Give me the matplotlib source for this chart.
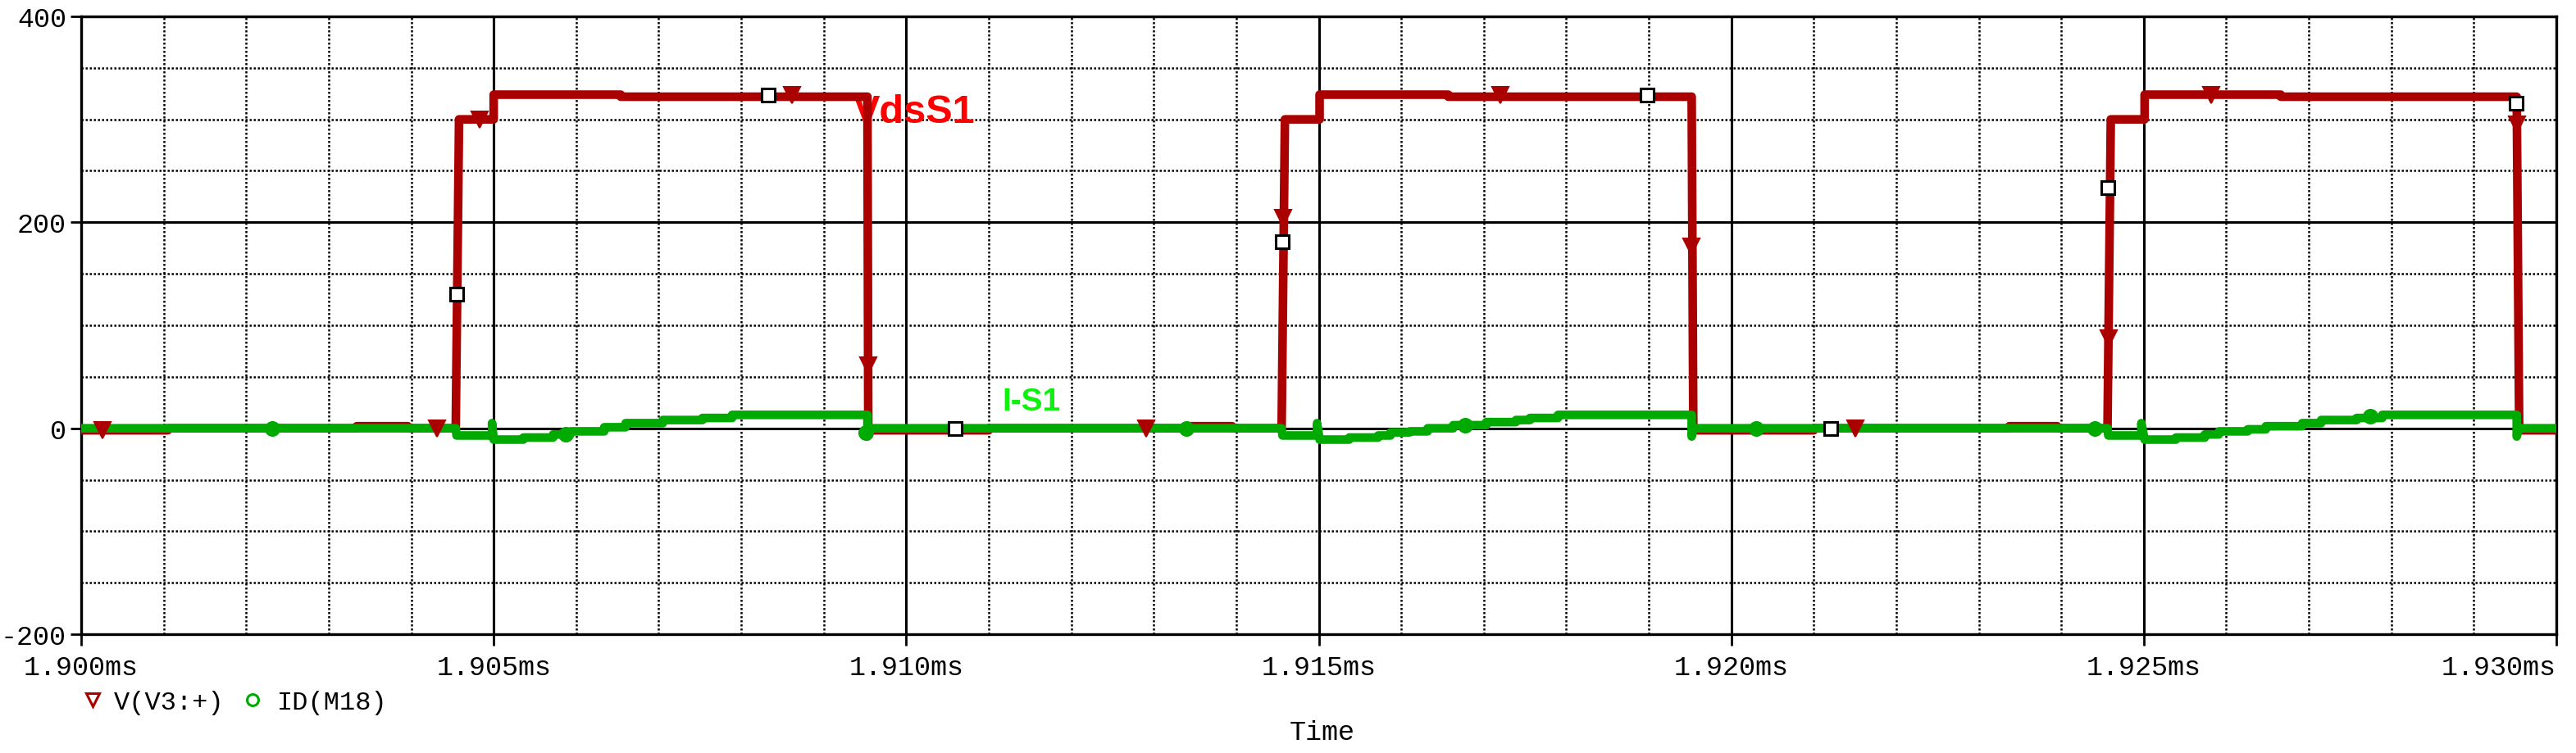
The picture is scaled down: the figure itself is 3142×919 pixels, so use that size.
import matplotlib
matplotlib.use('Agg')
from matplotlib import pyplot as plt
from matplotlib.lines import Line2D
from matplotlib.ticker import MultipleLocator

plt.rcParams['axes.unicode_minus'] = False

MONO = 'Liberation Mono'
RED = '#aa0000'
GREEN = '#00aa00'

# V(V3:+) trace, time in ms
vds_time = [1.90000, 1.90105, 1.90105, 1.90334, 1.90334, 1.90396, 1.90396,
            1.90454, 1.90458, 1.90500, 1.90500, 1.90654, 1.90654, 1.90953, 1.90954,
            1.91100, 1.91100, 1.91340, 1.91340, 1.91395, 1.91395,
            1.91455, 1.91459, 1.91501, 1.91501, 1.91657, 1.91657, 1.91952, 1.91954,
            1.92100, 1.92100, 1.92337, 1.92337, 1.92395, 1.92395,
            1.92456, 1.92460, 1.92501, 1.92501, 1.92666, 1.92666, 1.92952, 1.92955,
            1.93000]
vds_volt = [-2, -2, 0, 0, 2, 2, 0,
            0, 300, 300, 324, 324, 322, 322, -2,
            -2, 0, 0, 2, 2, 0,
            0, 300, 300, 324, 324, 322, 322, -2,
            -2, 0, 0, 2, 2, 0,
            0, 300, 300, 324, 324, 322, 322, -2,
            -2]

# ID(M18) trace
id_time = [1.90000, 1.90454, 1.90455, 1.90498, 1.90498, 1.90500, 1.90536, 1.90536,
           1.90572, 1.90572, 1.90593, 1.90593, 1.90634, 1.90634, 1.90660, 1.90660,
           1.90705, 1.90705, 1.90753, 1.90753, 1.90789, 1.90789, 1.90953, 1.90953,
           1.90955,
           1.91455, 1.91456, 1.91498, 1.91498, 1.91501, 1.91537, 1.91537,
           1.91572, 1.91572, 1.91587, 1.91587, 1.91610, 1.91610, 1.91632, 1.91632,
           1.91663, 1.91663, 1.91703, 1.91703, 1.91739, 1.91739, 1.91756, 1.91756,
           1.91790, 1.91790, 1.91952, 1.91952, 1.91954,
           1.92456, 1.92457, 1.92497, 1.92497, 1.92501, 1.92539, 1.92539,
           1.92574, 1.92574, 1.92591, 1.92591, 1.92626, 1.92626, 1.92648, 1.92648,
           1.92692, 1.92692, 1.92715, 1.92715, 1.92758, 1.92758, 1.92789, 1.92789,
           1.92952, 1.92952, 1.92955, 1.93000]
id_amp = [0, 0, -7, -7, 5, -11, -11, -9,
          -9, -6, -6, -3, -3, 1, 1, 5,
          5, 8, 8, 10, 10, 13, 13, -8,
          0,
          0, -7, -7, 5, -11, -11, -9,
          -9, -7, -7, -4, -4, -3, -3, 0,
          0, 3, 3, 6, 6, 8, 8, 10,
          10, 13, 13, -8, 0,
          0, -7, -7, 5, -11, -11, -9,
          -9, -6, -6, -3, -3, -1, -1, 2,
          2, 5, 5, 8, 8, 10, 10, 13,
          13, -8, 0, 0]

# trace markers
vds_mark_time = [1.90026, 1.90431, 1.90483, 1.90862, 1.90954, 1.91291, 1.91457,
                 1.91720, 1.91952, 1.92150, 1.92457, 1.92582, 1.92952]
vds_mark_volt = [-2, 0, 300, 324, 61, 0, 204, 324, 176, 0, 87, 324, 295]
id_mark_time = [1.90232, 1.90587, 1.90951, 1.91340, 1.91677, 1.92030, 1.92441, 1.92774]
id_mark_amp = [0, -6, -4, 0, 3, 0, 0, 12]
box_time = [1.90455, 1.90833, 1.91059, 1.91456, 1.91898, 1.92121, 1.92456, 1.92951]
box_val = [130, 324, 0, 181, 324, 0, 234, 316]

x_ticks = [1.900, 1.905, 1.910, 1.915, 1.920, 1.925, 1.930]
x_labels = ['1.900ms', '1.905ms', '1.910ms', '1.915ms', '1.920ms', '1.925ms', '1.930ms']
y_ticks = [-200, 0, 200, 400]
y_labels = ['-200', '0', '200', '400']


def main():
    W, H = 3142, 920
    fig = plt.figure(figsize=(W / 100, H / 100), dpi=100)
    ax = fig.add_axes([99 / W, 1 - 775 / H, (3118 - 99) / W, (775 - 21) / H])

    ax.set_xlim(x_ticks[0], x_ticks[-1])
    ax.set_ylim(y_ticks[0], y_ticks[-1])
    ax.set_xticks(x_ticks)
    ax.set_xticklabels(x_labels, fontfamily=MONO, fontsize=24)
    ax.set_yticks(y_ticks)
    ax.set_yticklabels(y_labels, fontfamily=MONO, fontsize=24)
    ax.get_xticklabels()[-1].set_horizontalalignment('right')
    ax.xaxis.set_minor_locator(MultipleLocator(0.001))
    ax.yaxis.set_minor_locator(MultipleLocator(50))

    ax.tick_params(which='major', direction='out', width=2.0, color='black')
    ax.tick_params(axis='x', which='major', length=10, pad=8)
    ax.tick_params(axis='y', which='major', length=9.5, pad=3.5)
    ax.tick_params(which='minor', length=0)

    ax.set_axisbelow(True)
    ax.grid(which='major', color='black', linewidth=2.2, linestyle='-')
    ax.grid(which='minor', color='black', linewidth=1.8, linestyle=(0, (1.0, 1.0)))
    for s in ax.spines.values():
        s.set_linewidth(2.4)
        s.set_color('black')

    ax.plot(vds_time, vds_volt, color=RED, linewidth=7.6, zorder=3,
            solid_joinstyle='round', solid_capstyle='butt')
    ax.plot(id_time, id_amp, color=GREEN, linewidth=7.6, zorder=4,
            solid_joinstyle='round', solid_capstyle='butt')

    ax.plot(vds_mark_time, vds_mark_volt, linestyle='none', marker='v', markersize=14,
            color=RED, markeredgewidth=1.5, zorder=5)
    ax.plot(id_mark_time, id_mark_amp, linestyle='none', marker='o', markersize=12.5,
            color=GREEN, markeredgewidth=1.2, zorder=5)
    ax.plot(box_time, box_val, linestyle='none', marker='s', markersize=11.5,
            markerfacecolor='white', markeredgecolor='black', markeredgewidth=2.2, zorder=6)

    ax.text(1.90936, 297, 'VdsS1', color='#ff0000', fontsize=35, fontweight='bold',
            fontfamily='Liberation Sans', ha='left', va='baseline', zorder=2)
    ax.text(1.91116, 18, 'I-S1', color='#10f010', fontsize=28, fontweight='bold',
            fontfamily='Liberation Sans', ha='left', va='baseline', zorder=2)

    # legend row under the axis
    fig.add_artist(Line2D([113 / W], [1 - 855 / H], marker='v', markersize=11,
                          markerfacecolor='none', markeredgecolor=RED, markeredgewidth=2.2,
                          linestyle='none', transform=fig.transFigure))
    fig.text(139 / W, 1 - 866 / H, 'V(V3:+)', fontfamily=MONO, fontsize=23,
             ha='left', va='baseline')
    fig.add_artist(Line2D([308 / W], [1 - 855 / H], marker='o', markersize=10,
                          markerfacecolor='none', markeredgecolor=GREEN, markeredgewidth=2.2,
                          linestyle='none', transform=fig.transFigure))
    fig.text(338 / W, 1 - 866 / H, 'ID(M18)', fontfamily=MONO, fontsize=23,
             ha='left', va='baseline')

    fig.text(1613 / W, 1 - 903 / H, 'Time', fontfamily=MONO, fontsize=24,
             ha='center', va='baseline')

    fig.savefig('out.png', dpi=100, facecolor='white')


if __name__ == '__main__':
    main()
